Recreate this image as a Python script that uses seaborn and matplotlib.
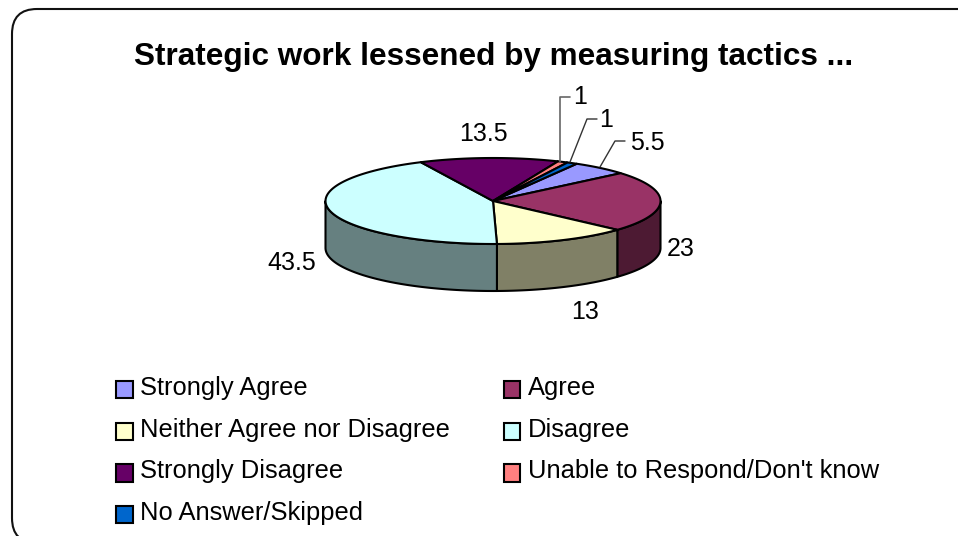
import numpy as np
import matplotlib
matplotlib.use('Agg')
import matplotlib.pyplot as plt
from matplotlib.colors import to_rgb
from matplotlib.legend_handler import HandlerPatch
from matplotlib.patches import FancyBboxPatch, Polygon, Patch, Rectangle
import seaborn as sns

categories = ['Strongly Agree', 'Agree', 'Neither Agree nor Disagree', 'Disagree',
              'Strongly Disagree', "Unable to Respond/Don't know", 'No Answer/Skipped']
values = [5.5, 23, 13, 43.5, 13.5, 1, 1]
value_labels = ['5.5', '23', '13', '43.5', '13.5', '1', '1']
colors = ['#9999FF', '#993366', '#FFFFCC', '#CCFFFF', '#660066', '#FF8080', '#0066CC']
title = 'Strategic work lessened by measuring tactics ...'

# pie geometry in pixels
CX, CY, RX, RY, DEPTH = 493, 201, 167.5, 43, 47
START = 60

sns.set_theme(style='white')
plt.rcParams['font.family'] = ['Liberation Sans', 'DejaVu Sans']

fig = plt.figure(figsize=(9.58, 5.36), dpi=100)
ax = fig.add_axes([0, 0, 1, 1])
ax.set_xlim(0, 958)
ax.set_ylim(536, 0)
ax.axis('off')

# rounded border runs off the right and bottom of the picture
ax.add_patch(FancyBboxPatch((37, 34), 960, 484, boxstyle='round,pad=25,rounding_size=25',
                            fc='white', ec='#111111', lw=1.5))

ax.text(494, 57, title, ha='center', va='center', fontsize=22.7, fontweight='bold', color='black')


def rim(t0, t1, dy=0):
    t = np.radians(np.linspace(t0, t1, 80))
    return np.column_stack([CX + RX * np.cos(t), CY - RY * np.sin(t) + dy])


# slice boundaries, clockwise from the start angle
sweeps = np.array(values) / sum(values) * 360
ends = START - np.cumsum(sweeps)
starts = ends + sweeps

# side walls, only the front half of the rim shows
for a, b, c in zip(starts, ends, colors):
    hi, lo = min(a, 0), max(b, -180)
    if hi > lo:
        dark = tuple(0.5 * x for x in to_rgb(c))
        wall = np.vstack([rim(hi, lo), rim(lo, hi, DEPTH)])
        ax.add_patch(Polygon(wall, closed=True, fc=dark, ec='black', lw=1.5, joinstyle='round'))

# top faces
for a, b, c in zip(starts, ends, colors):
    ax.add_patch(Polygon(np.vstack([[CX, CY], rim(a, b)]), closed=True, fc=c, ec='black',
                         lw=1.5, joinstyle='round'))

# value labels
label_pos = [(647, 143), (681, 249), (585, 312), (292, 263), (483, 134), (580, 97), (606, 120)]
for (x, y), text in zip(label_pos, value_labels):
    ax.text(x, y, text, ha='center', va='center', fontsize=18, color='black')

# leader lines
ax.plot([560, 560, 570], [162, 97, 97], color='#666666', lw=1.2)
ax.plot([570, 587, 597], [162, 119, 119], color='#333333', lw=1.0)
ax.plot([600, 615, 625], [167, 141, 141], color='#333333', lw=1.0)


def low_swatch(legend, orig_handle, xdescent, ydescent, width, height, fontsize):
    # swatches sit a little under the text line
    return Rectangle((xdescent, ydescent - 2.2), width, height)


# legend reads across in the picture, matplotlib fills columns first
handles = [Patch(fc=c, ec='black', lw=1.5) for c in colors]
idx = [0, 2, 4, 6, 1, 3, 5]
ax.legend([handles[i] for i in idx], [categories[i] for i in idx], ncols=2,
          loc='upper left', bbox_to_anchor=(116, 376), bbox_transform=ax.transData,
          frameon=False, fontsize=18.4, handlelength=0.66, handleheight=0.66,
          handletextpad=0.28, labelspacing=0.69, columnspacing=2.1,
          borderpad=0, borderaxespad=0, labelcolor='black',
          handler_map={Patch: HandlerPatch(patch_func=low_swatch)})

fig.savefig('out.png', dpi=100)
